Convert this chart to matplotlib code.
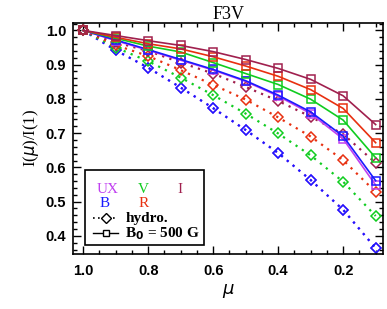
import matplotlib
matplotlib.use("Agg")
import matplotlib.pyplot as plt
from matplotlib.patches import Rectangle
from matplotlib.ticker import MultipleLocator

mu = [1.0, 0.9, 0.8, 0.7, 0.6, 0.5, 0.4, 0.3, 0.2, 0.1]

bands = ["UX", "B", "V", "R", "I"]
colors = {"UX": "#c040f0", "B": "#1a1aff", "V": "#10cc20", "R": "#e83010", "I": "#a0204e"}

hydro = {
    "UX": [1.0, 0.942, 0.891, 0.833, 0.773, 0.709, 0.642, 0.563, 0.476, 0.364],
    "B":  [1.0, 0.942, 0.891, 0.833, 0.773, 0.709, 0.642, 0.563, 0.476, 0.364],
    "V":  [1.0, 0.950, 0.910, 0.862, 0.811, 0.757, 0.699, 0.635, 0.558, 0.458],
    "R":  [1.0, 0.957, 0.925, 0.884, 0.841, 0.798, 0.746, 0.690, 0.621, 0.528],
    "I":  [1.0, 0.965, 0.940, 0.906, 0.874, 0.835, 0.794, 0.748, 0.697, 0.613],
}
mag = {
    "UX": [1.0, 0.970, 0.942, 0.913, 0.884, 0.851, 0.808, 0.757, 0.683, 0.548],
    "B":  [1.0, 0.972, 0.944, 0.915, 0.886, 0.853, 0.811, 0.762, 0.691, 0.561],
    "V":  [1.0, 0.977, 0.954, 0.937, 0.906, 0.874, 0.842, 0.799, 0.738, 0.628],
    "R":  [1.0, 0.980, 0.961, 0.946, 0.923, 0.896, 0.866, 0.827, 0.772, 0.672],
    "I":  [1.0, 0.985, 0.970, 0.956, 0.938, 0.915, 0.889, 0.857, 0.809, 0.725],
}

title = "F3V"
xlabel = r"$\mu$"
ylabel = r"I($\mu$)/I(1)"

serif = "Liberation Serif"
sans = "Liberation Sans"

fig = plt.figure(figsize=(3.87, 3.09), dpi=100)
ax = fig.add_axes([0.189, 0.178, 0.801, 0.748])

for b in bands:
    ax.plot(mu, hydro[b], linestyle=(0, (1, 2.4)), lw=1.6, color=colors[b],
            marker="D", markersize=5.3, markerfacecolor="none",
            markeredgecolor=colors[b], markeredgewidth=1.1)
for b in bands:
    ax.plot(mu, mag[b], linestyle="-", lw=1.2, color=colors[b],
            marker="s", markersize=5.8, markerfacecolor="none",
            markeredgecolor=colors[b], markeredgewidth=1.1)

ax.set_xlim(1.031, 0.077)
ax.set_ylim(0.347, 1.022)
ax.xaxis.set_major_locator(MultipleLocator(0.2))
ax.xaxis.set_minor_locator(MultipleLocator(0.05))
ax.yaxis.set_major_locator(MultipleLocator(0.1))
ax.yaxis.set_minor_locator(MultipleLocator(0.02))
ax.tick_params(which="both", direction="in", top=True, right=True, width=1.0)
ax.tick_params(which="major", length=6)
ax.tick_params(which="minor", length=3)
ax.tick_params(axis="x", pad=7)
ax.tick_params(axis="y", pad=5)
for lab in ax.get_xticklabels() + ax.get_yticklabels():
    lab.set_fontfamily(sans)
    lab.set_fontweight("bold")
    lab.set_fontsize(10.5)
for s in ax.spines.values():
    s.set_linewidth(1.2)

ax.set_title(title, fontfamily=serif, fontsize=13, pad=3)
ax.set_xlabel(xlabel, fontsize=13, labelpad=3)
ax.set_ylabel(ylabel, fontfamily=serif, fontsize=12, labelpad=3)

# legend box
ax.add_patch(Rectangle((0.039, 0.039), 0.384, 0.325, transform=ax.transAxes,
                       facecolor="white", edgecolor="black", lw=1.2, zorder=5))
lab_pos = {"UX": (0.110, 0.280), "V": (0.226, 0.280), "I": (0.345, 0.280),
           "B": (0.100, 0.217), "R": (0.226, 0.217)}
for b, (x, y) in lab_pos.items():
    ax.text(x, y, b, color=colors[b], transform=ax.transAxes, ha="center", va="center",
            fontfamily=serif, fontsize=11, zorder=6)

ax.plot([0.065, 0.105, 0.145], [0.154, 0.154, 0.154], transform=ax.transAxes,
        color="black", linestyle=(0, (1, 2)), lw=1.2, zorder=6)
ax.plot([0.105], [0.154], transform=ax.transAxes, marker="D", markersize=5.0,
        markerfacecolor="white", markeredgecolor="black", markeredgewidth=1.0, zorder=7)
ax.plot([0.065, 0.145], [0.089, 0.089], transform=ax.transAxes,
        color="black", linestyle="-", lw=1.0, zorder=6)
ax.plot([0.105], [0.089], transform=ax.transAxes, marker="s", markersize=4.5,
        markerfacecolor="white", markeredgecolor="black", markeredgewidth=1.0, zorder=7)
ax.text(0.168, 0.154, "hydro.", transform=ax.transAxes, va="center", ha="left",
        fontfamily=serif, fontsize=11, fontweight="bold", zorder=6)
ax.text(0.168, 0.089, r"B$_\mathbf{0}$ = 500 G", transform=ax.transAxes, va="center", ha="left",
        fontfamily=serif, fontsize=11, fontweight="bold", zorder=6)

fig.savefig("out.png", dpi=100)
